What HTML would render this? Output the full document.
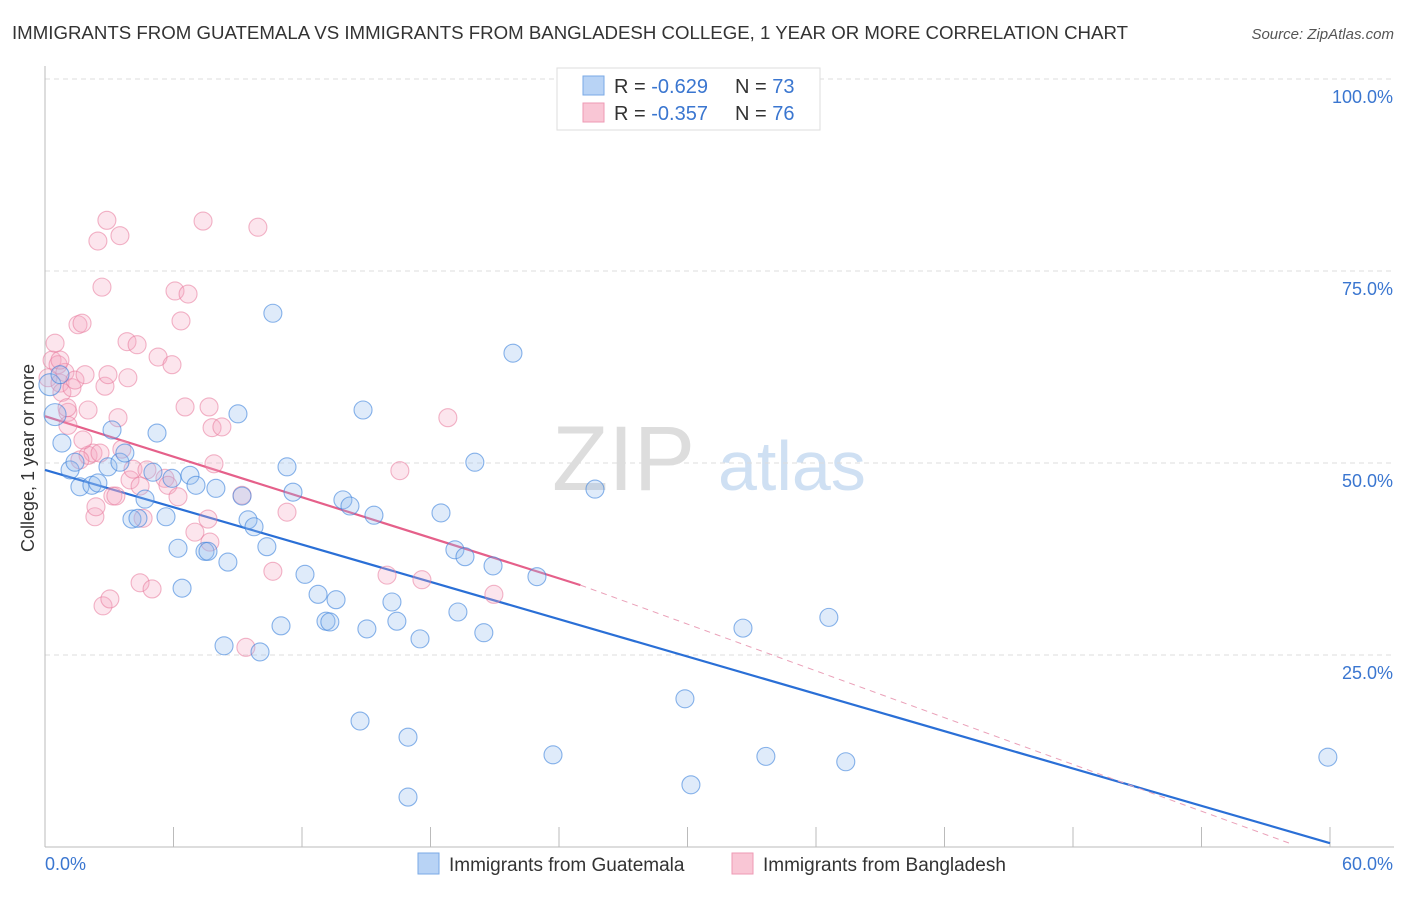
<!DOCTYPE html>
<html><head><meta charset="utf-8">
<style>
body{margin:0;background:#fff;font-family:"Liberation Sans",sans-serif;}
svg text{font-family:"Liberation Sans",sans-serif;}
</style></head>
<body>
<svg id="chart" width="1406" height="892">
<text x="12" y="39" font-size="18" fill="#333" textLength="1116" lengthAdjust="spacingAndGlyphs">IMMIGRANTS FROM GUATEMALA VS IMMIGRANTS FROM BANGLADESH COLLEGE, 1 YEAR OR MORE CORRELATION CHART</text>
<text x="1394" y="39" font-size="15" fill="#555" font-style="italic" text-anchor="end">Source: ZipAtlas.com</text>
<g>
<text x="552" y="490" font-size="92" fill="#ddd" font-family="Liberation Serif">ZIP</text>
<text x="718" y="490" font-size="70" fill="#cfe0f3">atlas</text>
</g>
<g id="grid"></g>
<g id="lines"></g>
<g id="points"></g>
<text transform="translate(34,458) rotate(-90)" font-size="18" fill="#333" text-anchor="middle">College, 1 year or more</text>
<g>
<rect x="557" y="68" width="263" height="62" fill="#fff" stroke="#ddd"/>
<rect x="583" y="76" width="21" height="19" fill="#b8d3f5" stroke="#7aaae6"/>
<rect x="583" y="103" width="21" height="19" fill="#f9c6d5" stroke="#ee9ab4"/>
<text x="614" y="93" font-size="20" fill="#333">R = <tspan fill="#3a76d0">-0.629</tspan></text>
<text x="735" y="93" font-size="20" fill="#333">N = <tspan fill="#3a76d0">73</tspan></text>
<text x="614" y="120" font-size="20" fill="#333">R = <tspan fill="#3a76d0">-0.357</tspan></text>
<text x="735" y="120" font-size="20" fill="#333">N = <tspan fill="#3a76d0">76</tspan></text>
</g>
<g>
<rect x="418" y="853" width="21" height="21" fill="#b8d3f5" stroke="#7aaae6"/>
<text x="449" y="871" font-size="19" fill="#333">Immigrants from Guatemala</text>
<rect x="732" y="853" width="21" height="21" fill="#f9c6d5" stroke="#ee9ab4"/>
<text x="763" y="871" font-size="19" fill="#333">Immigrants from Bangladesh</text>
</g>
</svg>
<script>
const xTicks=[0,6,12,18,24,30,36,42,48,54,60];
const yTicks=[25,50,75,100];
const yTickLabels=["25.0%","50.0%","75.0%","100.0%"];
const guatX=[0.47,0.79,1.17,1.4,1.63,2.19,2.47,2.94,3.13,3.5,3.73,4.06,4.34,4.67,5.04,5.23,5.65,5.93,6.21,6.4,6.77,7.05,7.47,7.61,7.98,8.36,8.54,9.01,9.2,9.48,9.76,10.04,10.36,10.64,11.02,11.3,11.58,12.14,12.75,13.12,13.3,13.59,13.91,14.24,14.71,14.85,15.03,15.36,16.2,16.43,16.95,16.95,17.51,18.49,19.14,19.28,19.61,20.07,20.49,20.92,21.85,22.97,23.72,25.68,29.88,30.16,32.59,33.66,36.6,37.39,59.9,0.23,0.7];
const guatY=[56.3,52.6,49.1,50.1,46.9,47.1,47.4,49.5,54.3,50.1,51.3,42.7,42.8,45.3,48.8,53.9,43.0,48.0,38.9,33.7,48.4,47.1,38.5,38.5,46.7,26.2,37.1,56.4,45.7,42.6,41.7,25.4,39.1,69.5,28.8,49.5,46.2,35.5,32.9,29.4,29.3,32.2,45.2,44.4,16.4,56.9,28.4,43.2,31.9,29.4,6.5,14.3,27.1,43.5,38.7,30.6,37.8,50.1,27.9,36.6,64.3,35.2,12.0,46.6,19.3,8.1,28.5,11.8,29.9,11.1,11.7,60.2,61.5];
const bangX=[0.14,0.33,0.47,0.61,0.7,0.79,0.93,1.07,1.07,1.26,1.4,1.54,1.73,1.87,2.01,2.01,2.24,2.33,2.38,2.47,2.57,2.66,2.71,2.8,2.89,2.94,3.03,3.17,3.31,3.41,3.5,3.59,3.83,3.97,4.11,4.3,4.44,4.58,4.76,5.0,5.28,5.6,5.74,5.93,6.07,6.21,6.35,6.54,6.68,7.0,7.38,7.61,7.66,7.7,7.8,7.89,8.26,9.2,9.38,9.94,10.64,11.3,15.97,16.57,17.6,18.81,20.96,3.87,4.44,1.63,1.77,1.03,0.7];
const bangY=[61.1,63.4,65.6,62.8,60.4,59.2,61.8,56.6,54.9,59.8,60.8,68.0,68.2,61.5,56.9,51.0,51.3,43.0,44.3,78.9,51.3,72.9,31.4,60.0,81.6,61.5,32.3,45.7,45.7,55.9,79.6,51.8,65.8,47.8,49.2,65.4,34.4,42.8,49.1,33.6,63.8,48.0,47.1,62.8,72.4,45.6,68.5,57.3,72.0,41.0,81.5,42.7,57.3,39.7,54.6,49.9,54.7,45.8,26.0,80.7,35.9,43.6,35.4,49.0,34.8,55.9,32.9,61.1,47.0,50.4,53.0,57.2,63.4];
const guatTrend=[49.1,0.5];   // y at x=0 and x=60
const bangTrendStart=[0,56.1];
const bangTrendSolidEnd=[25,34.1];
const bangTrendDashEnd=[58.1,0.5];
const NS="http://www.w3.org/2000/svg";
const X=v=>45+v/60*1285, Y=v=>847-v*7.68;
function mk(tag,attrs,parent){const e=document.createElementNS(NS,tag);for(const k in attrs)e.setAttribute(k,attrs[k]);parent.appendChild(e);return e;}
const grid=document.getElementById('grid');
yTicks.forEach((t,i)=>{
 const l=mk('line',{x1:45,x2:1394,y1:Y(t),y2:Y(t),stroke:'#ddd','stroke-dasharray':'5,4'},grid);
 
 
 const tx=mk('text',{x:1393,y:Y(t)+24,'font-size':18,fill:'#3a76d0','text-anchor':'end'},grid);
 tx.textContent=yTickLabels[i];
 
 
});
const ax=mk('line',{x1:45,x2:45,y1:66,y2:847,stroke:'#bbb'},grid);


const bx=mk('line',{x1:45,x2:1394,y1:847,y2:847,stroke:'#bbb'},grid);


xTicks.forEach(t=>{
 const l=mk('line',{x1:X(t),x2:X(t),y1:827,y2:847,stroke:'#bbb'},grid);
 
 
});
const xl0=mk('text',{x:45,y:870,'font-size':18,fill:'#3a76d0'},grid);xl0.textContent=xTicks[0].toFixed(1)+'%';


const xl1=mk('text',{x:1393,y:870,'font-size':18,fill:'#3a76d0','text-anchor':'end'},grid);xl1.textContent=xTicks[xTicks.length-1].toFixed(1)+'%';


const pts=document.getElementById('points');
function dots(xs,ys,fill,stroke,name,big){xs.forEach((x,i)=>{const c=mk('circle',{cx:X(x),cy:Y(ys[i]),r:big.includes(i)?11:9,fill:fill,stroke:stroke,'stroke-width':1.1},pts);
 
 });}
dots(bangX,bangY,'rgba(246,170,195,0.3)','rgba(232,120,155,0.55)','bangladesh-point',[]);
dots(guatX,guatY,'rgba(150,190,240,0.3)','rgba(60,130,220,0.6)','guatemala-point',[0,71]);
const lines=document.getElementById('lines');
const gl=mk('line',{x1:X(0),y1:Y(guatTrend[0]),x2:X(60),y2:Y(guatTrend[1]),stroke:'#2a6fd6','stroke-width':2.2},lines);


const bl=mk('line',{x1:X(bangTrendStart[0]),y1:Y(bangTrendStart[1]),x2:X(bangTrendSolidEnd[0]),y2:Y(bangTrendSolidEnd[1]),stroke:'#e5608a','stroke-width':2.2},lines);


const bd=mk('line',{x1:X(bangTrendSolidEnd[0]),y1:Y(bangTrendSolidEnd[1]),x2:X(bangTrendDashEnd[0]),y2:Y(bangTrendDashEnd[1]),stroke:'#eaa0b8','stroke-width':1,'stroke-dasharray':'6,5'},lines);


</script>
</body></html>
